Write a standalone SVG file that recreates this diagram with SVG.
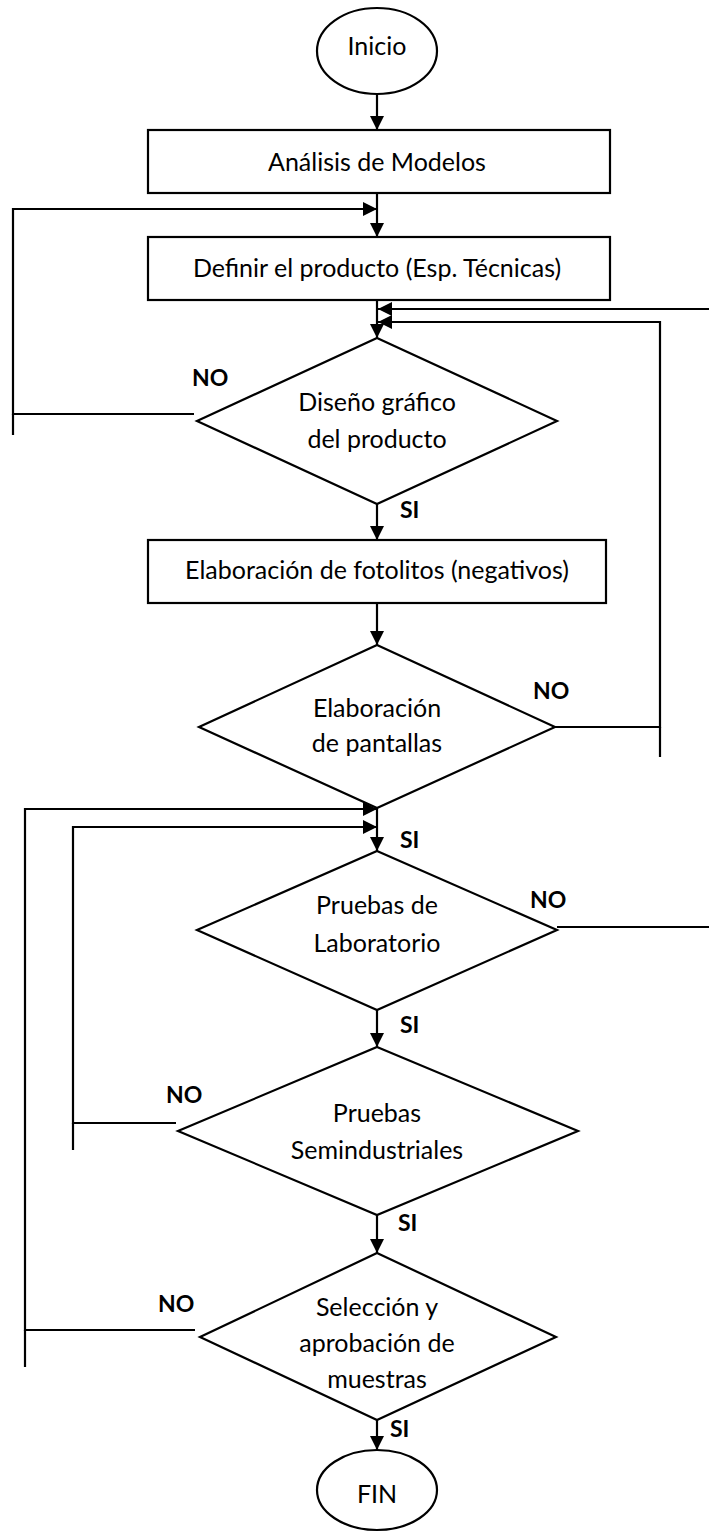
<svg xmlns="http://www.w3.org/2000/svg" width="709" height="1532" viewBox="0 0 709 1532">
<style>
.shape{fill:#fff;stroke:#000;stroke-width:2.2}
.conn{fill:none;stroke:#000;stroke-width:2.2}
.t{font-family:Lato,"Open Sans","Liberation Sans",sans-serif;font-size:25px;fill:#000;text-anchor:middle}
.lbl{font-family:Lato,"Open Sans","Liberation Sans",sans-serif;font-size:23px;font-weight:bold;fill:#000}
</style>
<defs>
<marker id="ah" markerUnits="userSpaceOnUse" markerWidth="15" markerHeight="14" refX="14" refY="7" orient="auto">
<path d="M0,0 L14,7 L0,14 z" fill="#000"/>
</marker>
</defs>
<rect width="709" height="1532" fill="#fff"/>

<g id="connectors">
<path class="conn" d="M377,87 V130" marker-end="url(#ah)"/>
<path class="conn" d="M377,193 V237" marker-end="url(#ah)"/>
<path class="conn" d="M194,414 H13 V209 H377" marker-end="url(#ah)"/>
<path class="conn" d="M13,414 V435"/>
<path class="conn" d="M377,295 V338" marker-end="url(#ah)"/>
<path class="conn" d="M709,309 H378" marker-end="url(#ah)"/>
<path class="conn" d="M555,727 H660 V322 H378" marker-end="url(#ah)"/>
<path class="conn" d="M660,727 V757"/>
<path class="conn" d="M377,493 V540" marker-end="url(#ah)"/>
<path class="conn" d="M377,600 V645" marker-end="url(#ah)"/>
<path class="conn" d="M377,800 V851" marker-end="url(#ah)"/>
<path class="conn" d="M195,1330 H25 V809 H377" marker-end="url(#ah)"/>
<path class="conn" d="M25,1330 V1367"/>
<path class="conn" d="M176,1123 H73 V827 H377" marker-end="url(#ah)"/>
<path class="conn" d="M73,1123 V1150"/>
<path class="conn" d="M557,927 H709"/>
<path class="conn" d="M377,1000 V1047" marker-end="url(#ah)"/>
<path class="conn" d="M377,1204 V1253" marker-end="url(#ah)"/>
<path class="conn" d="M377,1410 V1450" marker-end="url(#ah)"/>
</g>

<g id="inicio">
<ellipse class="shape" cx="377" cy="51" rx="60" ry="43"/>
<text class="t" x="377" y="55">Inicio</text>
</g>

<g id="analisis">
<rect class="shape" x="148" y="130" width="462" height="63"/>
<text class="t" x="377" y="171">Análisis de Modelos</text>
</g>

<g id="definir">
<rect class="shape" x="148" y="237" width="462" height="63"/>
<text class="t" x="377" y="277">Definir el producto (Esp. Técnicas)</text>
</g>

<g id="diseno">
<polygon class="shape" points="377,338 557,421 377,504 197,421"/>
<text class="t" x="377" y="411">Diseño gráfico</text>
<text class="t" x="377" y="448">del producto</text>
<text class="lbl" x="192" y="386">NO</text>
<text class="lbl" x="400" y="518">SI</text>
</g>

<g id="fotolitos">
<rect class="shape" x="148" y="540" width="458" height="63"/>
<text class="t" x="377" y="579">Elaboración de fotolitos (negativos)</text>
</g>

<g id="pantallas">
<polygon class="shape" points="377,645 555,727 377,808 199,727"/>
<text class="t" x="377" y="717">Elaboración</text>
<text class="t" x="377" y="752">de pantallas</text>
<text class="lbl" x="533" y="699">NO</text>
<text class="lbl" x="400" y="848">SI</text>
</g>

<g id="laboratorio">
<polygon class="shape" points="377,851 557,930 377,1010 197,930"/>
<text class="t" x="377" y="914">Pruebas de</text>
<text class="t" x="377" y="952">Laboratorio</text>
<text class="lbl" x="530" y="908">NO</text>
<text class="lbl" x="400" y="1033">SI</text>
</g>

<g id="semindustriales">
<polygon class="shape" points="377,1047 578,1131 377,1215 178,1131"/>
<text class="t" x="377" y="1122">Pruebas</text>
<text class="t" x="377" y="1159">Semindustriales</text>
<text class="lbl" x="166" y="1103">NO</text>
<text class="lbl" x="398" y="1231">SI</text>
</g>

<g id="seleccion">
<polygon class="shape" points="377,1253 556,1337 377,1420 200,1337"/>
<text class="t" x="377" y="1316">Selección y</text>
<text class="t" x="377" y="1352">aprobación de</text>
<text class="t" x="377" y="1388">muestras</text>
<text class="lbl" x="158" y="1312">NO</text>
<text class="lbl" x="390" y="1437">SI</text>
</g>

<g id="fin">
<ellipse class="shape" cx="377" cy="1490" rx="60" ry="40"/>
<text class="t" x="377" y="1503">FIN</text>
</g>
</svg>
